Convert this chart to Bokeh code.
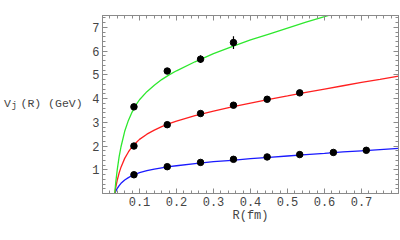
from bokeh.plotting import figure
from bokeh.layouts import row
from bokeh.models import LinearAxis, FixedTicker, ColumnDataSource, CustomJSTickFormatter
from bokeh.core.properties import value
from bokeh.embed import file_html
from bokeh.resources import INLINE

# fitted curves
R_curve = [0.033, 0.036, 0.04, 0.045, 0.05, 0.06, 0.07, 0.08, 0.09, 0.10, 0.12, 0.14,
           0.16, 0.18, 0.20, 0.25, 0.30, 0.35, 0.40, 0.45, 0.50, 0.55, 0.60, 0.65,
           0.70, 0.75, 0.80]
blue_curve = [0.00, 0.10, 0.22, 0.33, 0.43, 0.57, 0.67, 0.76, 0.82, 0.88, 0.96, 1.03,
              1.08, 1.13, 1.17, 1.26, 1.34, 1.40, 1.47, 1.52, 1.58, 1.64, 1.69, 1.75,
              1.80, 1.85, 1.90]
red_curve = [0.00, 0.27, 0.57, 0.87, 1.11, 1.48, 1.75, 1.97, 2.13, 2.28, 2.50, 2.67,
             2.82, 2.94, 3.05, 3.28, 3.47, 3.65, 3.81, 3.97, 4.11, 4.26, 4.40, 4.54,
             4.68, 4.81, 4.95]
green_curve = [0.00, 0.50, 1.02, 1.55, 1.97, 2.62, 3.08, 3.43, 3.72, 3.95, 4.29, 4.56,
               4.80, 5.00, 5.17, 5.55, 5.89, 6.19, 6.47, 6.72, 6.97, 7.22, 7.45, 7.69,
               7.92, 8.15, 8.38]

# lattice data points
R_pts = [0.085, 0.175, 0.265, 0.354, 0.445, 0.533, 0.624, 0.713]
blue_pts = [0.79, 1.13, 1.31, 1.44, 1.54, 1.64, 1.73, 1.82]
red_pts = [2.00, 2.90, 3.37, 3.72, 3.97, 4.24]
green_pts = [3.65, 5.16, 5.66, 6.36]
green_err = [0.03, 0.06, 0.16, 0.27]

x_ticks = [0.1, 0.2, 0.3, 0.4, 0.5, 0.6, 0.7]
y_ticks = [1, 2, 3, 4, 5, 6, 7]

y_label_parts = ["V", "j", "(R) (GeV)"]

FONT = "Liberation Mono"
GRAY = "#8a8a8a"
TXT = "#444444"

p = figure(frame_width=296, frame_height=178, x_range=(0, 0.8), y_range=(0, 7.5),
           output_backend="svg", toolbar_location=None,
           min_border_left=14, min_border_right=2, min_border_top=15, min_border_bottom=30,
           x_axis_location=None, y_axis_location=None)
p.grid.visible = False
p.outline_line_color = GRAY
p.background_fill_color = "white"
p.border_fill_color = "white"

x_minor = [round(0.02 * i, 2) for i in range(41)]
y_minor = [round(0.2 * i, 1) for i in range(38)]
blank = CustomJSTickFormatter(code="return ''")


def style(ax, labels=True):
    ax.axis_line_color = GRAY
    ax.major_tick_line_color = GRAY
    ax.minor_tick_line_color = GRAY
    ax.major_tick_in = 5
    ax.major_tick_out = 0
    ax.minor_tick_in = 3
    ax.minor_tick_out = 0
    ax.major_label_text_font = FONT
    ax.major_label_text_font_size = "12px"
    ax.major_label_text_color = TXT
    ax.major_label_standoff = 3 if labels else 0
    ax.axis_label_text_font = FONT
    ax.axis_label_text_font_size = "12px"
    ax.axis_label_text_font_style = "normal"
    ax.axis_label_text_color = TXT


xb = LinearAxis(ticker=FixedTicker(ticks=x_ticks, minor_ticks=x_minor), axis_label="R(fm)")
style(xb)
xb.axis_label_standoff = 0
p.add_layout(xb, "below")
xt = LinearAxis(ticker=FixedTicker(ticks=x_ticks, minor_ticks=x_minor), formatter=blank)
style(xt, labels=False)
p.add_layout(xt, "above")
yl = LinearAxis(ticker=FixedTicker(ticks=y_ticks, minor_ticks=y_minor))
style(yl)
p.add_layout(yl, "left")
yr = LinearAxis(ticker=FixedTicker(ticks=y_ticks, minor_ticks=y_minor), formatter=blank)
style(yr, labels=False)
p.add_layout(yr, "right")

p.line(R_curve, blue_curve, line_color="#1a1aff", line_width=1.3)
p.line(R_curve, red_curve, line_color="#ff2020", line_width=1.3)
p.line(R_curve, green_curve, line_color="#2ee82e", line_width=1.3)

gsrc = ColumnDataSource(dict(x=R_pts[:4], y=green_pts,
                             lo=[v - e for v, e in zip(green_pts, green_err)],
                             hi=[v + e for v, e in zip(green_pts, green_err)]))
p.segment(x0="x", y0="lo", x1="x", y1="hi", source=gsrc, line_color="black", line_width=1.2)

p.scatter(R_pts, blue_pts, size=6.5, color="black")
p.scatter(R_pts[:6], red_pts, size=6.5, color="black")
p.scatter(R_pts[:4], green_pts, size=6.5, color="black")

# side panel holding the horizontal y-axis title  V_j (R) (GeV)
lf = figure(frame_width=88, frame_height=178, x_range=(0, 88), y_range=(0, 7.5),
            output_backend="svg", toolbar_location=None,
            min_border_left=0, min_border_right=0, min_border_top=15, min_border_bottom=30,
            x_axis_location=None, y_axis_location=None)
lf.grid.visible = False
lf.outline_line_color = None
lf.text(x=[3.5], y=[3.8], text=[y_label_parts[0]], text_font=value(FONT),
        text_font_size="11.5px", text_color=TXT, text_baseline="middle")
lf.text(x=[11], y=[3.68], text=[y_label_parts[1]], text_font=value(FONT),
        text_font_size="9px", text_color=TXT, text_baseline="middle")
lf.text(x=[20], y=[3.8], text=[y_label_parts[2]], text_font=value(FONT),
        text_font_size="11.5px", text_color=TXT, text_baseline="middle")

layout = row(lf, p, spacing=0)
open("out.html", "w").write(file_html(layout, INLINE))
